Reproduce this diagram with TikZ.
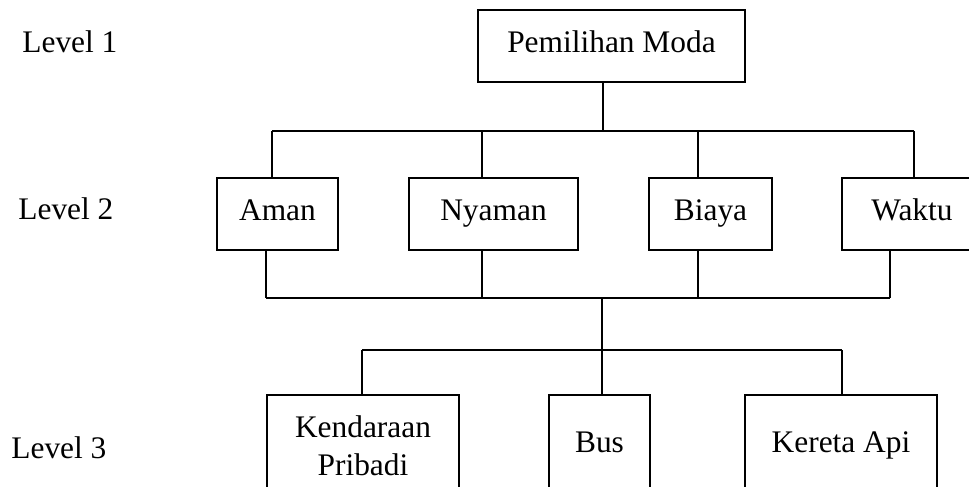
\documentclass[tikz,border=0pt]{standalone}
\usepackage{fontspec}
\setmainfont{Liberation Serif}
\tikzset{
  kotak/.style={draw, line width=1pt, inner sep=0pt, align=center,
    text height=10pt, text depth=4pt,
    font=\fontsize{15.7}{19}\selectfont},
  lvl/.style={anchor=base west, inner sep=0pt,
    font=\fontsize{15.7}{19}\selectfont},
  garis/.style={line width=1pt}
}
\begin{document}
\begin{tikzpicture}[x=0.5pt,y=-0.5pt]
	\useasboundingbox (0,0) rectangle (969,487);
	% level labels
	\node [lvl] (l1) at (22,52) {Level 1};
	\node [lvl] (l2) at (18,219) {Level 2};
	\node [lvl] (l3) at (11,458) {Level 3};
	% boxes
	\node [kotak, minimum width=133.5pt, minimum height=36pt] (pm) at (611.5,46) {Pemilihan Moda};
	\node [kotak, minimum width=60.5pt, minimum height=36pt] (aman) at (277.5,214) {Aman};
	\node [kotak, minimum width=84.5pt, minimum height=36pt] (nyaman) at (493.5,214) {Nyaman};
	\node [kotak, minimum width=61.5pt, minimum height=36pt] (biaya) at (710.5,214) {Biaya};
	\node [kotak, minimum width=70pt, minimum height=36pt] (waktu) at (912,214) {Waktu};
	\node [kotak, text height=, text depth=, minimum width=96pt, minimum height=51pt] (kp) at (363,446) {Kendaraan\\Pribadi};
	\node [kotak, minimum width=50.5pt, minimum height=51pt] (bus) at (599.5,446) {Bus};
	\node [kotak, minimum width=96pt, minimum height=51pt] (ka) at (841,446) {Kereta Api};
	% junctions
	\coordinate (t0) at (603,131);
	\coordinate (ta) at (272,131);
	\coordinate (tn) at (482,131);
	\coordinate (tb) at (698,131);
	\coordinate (tw) at (914,131);
	\coordinate (b0) at (602,298);
	\coordinate (ba) at (266,298);
	\coordinate (bn) at (482,298);
	\coordinate (bb) at (698,298);
	\coordinate (bw) at (890,298);
	\coordinate (c0) at (602,350);
	\coordinate (ck) at (362,350);
	\coordinate (ce) at (842,350);
	% level 1 to level 2
	\draw [garis] (pm.south -| t0) -- (t0);
	\draw [garis] (ta) -- (tw);
	\foreach \c/\n in {ta/aman, tn/nyaman, tb/biaya, tw/waktu}
		\draw [garis] (\c) -- (\n.north -| \c);
	% level 2 to level 3
	\foreach \c/\n in {ba/aman, bn/nyaman, bb/biaya, bw/waktu}
		\draw [garis] (\n.south -| \c) -- (\c);
	\draw [garis] (ba) -- (bw);
	\draw [garis] (b0) -- (c0);
	\draw [garis] (ck) -- (ce);
	\foreach \c/\n in {ck/kp, c0/bus, ce/ka}
		\draw [garis] (\c) -- (\n.north -| \c);
\end{tikzpicture}
\end{document}
